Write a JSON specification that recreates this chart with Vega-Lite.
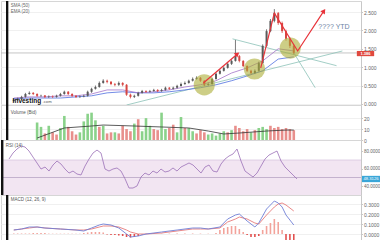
{
"$schema": "https://vega.github.io/schema/vega-lite/v6.json",
"padding": 0,
"spacing": 0,
"bounds": "flush",
"background": "#ffffff",
"config": {
  "view": {"stroke": "#d6d6d6"},
  "axis": {"labelFontSize": 5, "labelColor": "#666666", "labelFont": "Liberation Sans", "domainColor": "#c8c8c8", "tickColor": "#c8c8c8", "tickSize": 1.5, "labelPadding": 1, "gridColor": "#f0f0f0", "labelOverlap": false, "labelBound": false, "labelFlush": false},
  "text": {"font": "Liberation Sans"}
},
"datasets": {
  "price": [
    {"d":2,"o":0.08,"h":0.14,"l":0.06,"c":0.11},{"d":3,"o":0.11,"h":0.17,"l":0.09,"c":0.14},{"d":4,"o":0.14,"h":0.22,"l":0.12,"c":0.19},
    {"d":5,"o":0.19,"h":0.30,"l":0.17,"c":0.27},{"d":6,"o":0.27,"h":0.34,"l":0.25,"c":0.30},{"d":7,"o":0.30,"h":0.32,"l":0.24,"c":0.27},
    {"d":8,"o":0.27,"h":0.29,"l":0.19,"c":0.22},{"d":9,"o":0.22,"h":0.25,"l":0.19,"c":0.23},{"d":10,"o":0.23,"h":0.24,"l":0.16,"c":0.19},
    {"d":11,"o":0.19,"h":0.23,"l":0.16,"c":0.20},{"d":12,"o":0.20,"h":0.23,"l":0.16,"c":0.19},{"d":13,"o":0.19,"h":0.25,"l":0.17,"c":0.22},
    {"d":14,"o":0.22,"h":0.30,"l":0.20,"c":0.27},{"d":15,"o":0.27,"h":0.36,"l":0.25,"c":0.33},{"d":16,"o":0.33,"h":0.35,"l":0.24,"c":0.27},
    {"d":17,"o":0.27,"h":0.29,"l":0.19,"c":0.22},{"d":18,"o":0.22,"h":0.24,"l":0.16,"c":0.19},{"d":19,"o":0.19,"h":0.23,"l":0.16,"c":0.20},
    {"d":20,"o":0.20,"h":0.25,"l":0.18,"c":0.22},{"d":21,"o":0.22,"h":0.36,"l":0.20,"c":0.33},{"d":22,"o":0.33,"h":0.44,"l":0.30,"c":0.41},
    {"d":23,"o":0.41,"h":0.50,"l":0.39,"c":0.46},{"d":24,"o":0.46,"h":0.61,"l":0.44,"c":0.57},{"d":25,"o":0.57,"h":0.67,"l":0.55,"c":0.63},
    {"d":26,"o":0.63,"h":0.66,"l":0.56,"c":0.60},{"d":27,"o":0.60,"h":0.62,"l":0.51,"c":0.54},{"d":28,"o":0.54,"h":0.57,"l":0.48,"c":0.52},
    {"d":29,"o":0.52,"h":0.61,"l":0.49,"c":0.57},{"d":30,"o":0.57,"h":0.59,"l":0.48,"c":0.52},{"d":31,"o":0.52,"h":0.54,"l":0.22,"c":0.25},
    {"d":32,"o":0.25,"h":0.28,"l":0.15,"c":0.19},{"d":33,"o":0.19,"h":0.25,"l":0.16,"c":0.22},{"d":34,"o":0.22,"h":0.33,"l":0.20,"c":0.30},
    {"d":35,"o":0.30,"h":0.38,"l":0.28,"c":0.35},{"d":36,"o":0.35,"h":0.37,"l":0.30,"c":0.33},{"d":37,"o":0.33,"h":0.38,"l":0.31,"c":0.35},
    {"d":38,"o":0.35,"h":0.41,"l":0.33,"c":0.38},{"d":39,"o":0.38,"h":0.40,"l":0.32,"c":0.35},{"d":40,"o":0.35,"h":0.41,"l":0.33,"c":0.38},
    {"d":41,"o":0.38,"h":0.47,"l":0.36,"c":0.44},{"d":42,"o":0.44,"h":0.46,"l":0.38,"c":0.41},{"d":43,"o":0.41,"h":0.47,"l":0.39,"c":0.44},
    {"d":44,"o":0.44,"h":0.52,"l":0.42,"c":0.49},{"d":45,"o":0.49,"h":0.58,"l":0.47,"c":0.54},{"d":46,"o":0.54,"h":0.61,"l":0.52,"c":0.57},
    {"d":47,"o":0.57,"h":0.66,"l":0.55,"c":0.63},{"d":48,"o":0.63,"h":0.72,"l":0.61,"c":0.68},{"d":49,"o":0.68,"h":0.75,"l":0.66,"c":0.71},
    {"d":50,"o":0.71,"h":0.73,"l":0.60,"c":0.63},{"d":51,"o":0.63,"h":0.65,"l":0.48,"c":0.52},{"d":52,"o":0.52,"h":0.58,"l":0.49,"c":0.54},
    {"d":53,"o":0.54,"h":0.71,"l":0.52,"c":0.68},{"d":54,"o":0.68,"h":0.85,"l":0.66,"c":0.82},{"d":55,"o":0.82,"h":0.94,"l":0.80,"c":0.90},
    {"d":56,"o":0.90,"h":1.02,"l":0.88,"c":0.98},{"d":57,"o":0.98,"h":1.13,"l":0.96,"c":1.09},{"d":58,"o":1.09,"h":1.21,"l":1.06,"c":1.17},
    {"d":59,"o":1.17,"h":1.74,"l":1.15,"c":1.30},{"d":60,"o":1.30,"h":1.33,"l":1.13,"c":1.17},{"d":61,"o":1.17,"h":1.19,"l":1.00,"c":1.03},
    {"d":62,"o":1.03,"h":1.05,"l":0.87,"c":0.90},{"d":63,"o":0.90,"h":0.93,"l":0.80,"c":0.84},{"d":64,"o":0.84,"h":0.94,"l":0.81,"c":0.90},
    {"d":65,"o":0.90,"h":1.15,"l":0.88,"c":1.11},{"d":66,"o":1.11,"h":1.62,"l":1.09,"c":1.58},{"d":67,"o":1.58,"h":2.03,"l":1.55,"c":1.98},
    {"d":68,"o":1.98,"h":2.31,"l":1.95,"c":2.26},{"d":69,"o":2.26,"h":2.58,"l":2.22,"c":2.47},{"d":70,"o":2.47,"h":2.50,"l":2.15,"c":2.20},
    {"d":71,"o":2.20,"h":2.24,"l":1.93,"c":1.98},{"d":72,"o":1.98,"h":2.02,"l":1.72,"c":1.77},{"d":73,"o":1.77,"h":1.81,"l":1.52,"c":1.58},
    {"d":74,"o":1.58,"h":1.62,"l":1.35,"c":1.39}
  ],
  "ma": [
    {"d":2,"e":0.16,"s":0.14},{"d":6,"e":0.19,"s":0.16},{"d":10,"e":0.19,"s":0.16},{"d":14,"e":0.22,"s":0.16},{"d":18,"e":0.22,"s":0.19},
    {"d":22,"e":0.27,"s":0.22},{"d":26,"e":0.38,"s":0.30},{"d":30,"e":0.38,"s":0.33},{"d":34,"e":0.30,"s":0.30},{"d":38,"e":0.33,"s":0.30},
    {"d":42,"e":0.38,"s":0.33},{"d":46,"e":0.46,"s":0.38},{"d":50,"e":0.52,"s":0.44},{"d":54,"e":0.63,"s":0.52},{"d":58,"e":0.84,"s":0.63},
    {"d":62,"e":0.98,"s":0.76},{"d":66,"e":1.17,"s":0.90},{"d":70,"e":1.50,"s":1.22},{"d":74,"e":1.44,"s":1.28}
  ],
  "trend": [
    {"line":"a","d":31,"p":-0.03},{"line":"a","d":86.5,"p":1.44},
    {"line":"b","d":58.25,"p":1.77},{"line":"b","d":85,"p":1.04},
    {"line":"c","d":74,"p":1.39},{"line":"c","d":79.5,"p":0.44}
  ],
  "circles": [{"d":51,"p":0.52},{"d":63.9,"p":0.95},{"d":73.1,"p":1.52}],
  "arrows": [
    {"a":"A1","k":1,"d":50.75,"p":0.57},{"a":"A1","k":2,"d":59.5,"p":1.36},
    {"a":"A2","k":1,"d":65.5,"p":0.98},{"a":"A2","k":2,"d":69,"p":2.47},{"a":"A2","k":3,"d":75,"p":1.44},{"a":"A2","k":4,"d":81.75,"p":2.53}
  ],
  "heads": [{"a":"A1","d":59.5,"p":1.36},{"a":"A2","d":81.75,"p":2.53}],
  "vol": [
    {"d":8,"v":16,"dir":"up"},{"d":9,"v":12,"dir":"up"},{"d":10,"v":6,"dir":"down"},{"d":11,"v":13,"dir":"up"},{"d":12,"v":7,"dir":"down"},
    {"d":13,"v":5,"dir":"down"},{"d":14,"v":11,"dir":"up"},{"d":15,"v":22,"dir":"up"},{"d":16,"v":12,"dir":"down"},{"d":17,"v":8,"dir":"down"},
    {"d":18,"v":5,"dir":"down"},{"d":19,"v":7,"dir":"up"},{"d":20,"v":17,"dir":"up"},{"d":21,"v":24,"dir":"up"},{"d":22,"v":25,"dir":"up"},
    {"d":23,"v":18,"dir":"up"},{"d":24,"v":12,"dir":"down"},{"d":25,"v":13,"dir":"up"},{"d":26,"v":6,"dir":"down"},{"d":27,"v":7,"dir":"down"},
    {"d":28,"v":7,"dir":"up"},{"d":29,"v":6,"dir":"down"},{"d":30,"v":13,"dir":"down"},{"d":31,"v":10,"dir":"down"},{"d":32,"v":8,"dir":"down"},
    {"d":33,"v":15,"dir":"up"},{"d":34,"v":19,"dir":"down"},{"d":35,"v":8,"dir":"up"},{"d":36,"v":20,"dir":"up"},{"d":37,"v":13,"dir":"up"},
    {"d":38,"v":10,"dir":"down"},{"d":39,"v":9,"dir":"down"},{"d":40,"v":25,"dir":"up"},{"d":41,"v":10,"dir":"up"},{"d":42,"v":11,"dir":"down"},
    {"d":43,"v":14,"dir":"down"},{"d":44,"v":7,"dir":"up"},{"d":45,"v":21,"dir":"up"},{"d":46,"v":11,"dir":"down"},{"d":47,"v":11,"dir":"up"},
    {"d":48,"v":8,"dir":"up"},{"d":49,"v":6,"dir":"down"},{"d":50,"v":9,"dir":"down"},{"d":51,"v":7,"dir":"down"},{"d":52,"v":5,"dir":"up"},
    {"d":53,"v":6,"dir":"up"},{"d":54,"v":4,"dir":"up"},{"d":55,"v":6,"dir":"up"},{"d":56,"v":8,"dir":"up"},{"d":57,"v":7,"dir":"down"},
    {"d":58,"v":9,"dir":"up"},{"d":59,"v":13,"dir":"down"},{"d":60,"v":11,"dir":"down"},{"d":61,"v":8,"dir":"down"},{"d":62,"v":10,"dir":"down"},
    {"d":63,"v":7,"dir":"up"},{"d":64,"v":9,"dir":"down"},{"d":65,"v":11,"dir":"up"},{"d":66,"v":12,"dir":"up"},{"d":67,"v":10,"dir":"up"},
    {"d":68,"v":13,"dir":"down"},{"d":69,"v":11,"dir":"down"},{"d":70,"v":12,"dir":"down"},{"d":71,"v":10,"dir":"down"},{"d":72,"v":11,"dir":"down"},
    {"d":73,"v":10,"dir":"down"},{"d":74,"v":9,"dir":"down"}
  ],
  "vma": [
    {"d":8,"m":1.8},{"d":15,"m":11},{"d":22,"m":12.8},{"d":25,"m":13.7},{"d":33,"m":12.8},{"d":40,"m":11.9},{"d":47,"m":11},
    {"d":52,"m":8.2},{"d":56,"m":5.5},{"d":60,"m":6.4},{"d":67,"m":8.2},{"d":72,"m":9.1},{"d":74,"m":9.1}
  ],
  "rsi": [
    {"d":2,"r":71.1},{"d":3,"r":78.0},{"d":4,"r":82.6},{"d":5,"r":86.0},{"d":6,"r":84.9},{"d":7,"r":80.3},{"d":8,"r":73.4},{"d":9,"r":66.6},
    {"d":10,"r":59.7},{"d":11,"r":62.0},{"d":12,"r":57.4},{"d":13,"r":64.3},{"d":14,"r":68.9},{"d":15,"r":65.4},{"d":16,"r":59.7},{"d":17,"r":55.1},
    {"d":18,"r":57.4},{"d":19,"r":54.0},{"d":20,"r":52.9},{"d":21,"r":63.1},{"d":22,"r":71.1},{"d":23,"r":78.0},{"d":24,"r":81.4},{"d":25,"r":78.0},
    {"d":26,"r":59.7},{"d":27,"r":57.4},{"d":28,"r":59.7},{"d":29,"r":60.9},{"d":30,"r":57.4},{"d":31,"r":48.6},{"d":32,"r":38.0},{"d":33,"r":38.0},
    {"d":34,"r":40.3},{"d":35,"r":50.6},{"d":36,"r":55.1},{"d":37,"r":52.9},{"d":38,"r":57.4},{"d":39,"r":55.1},{"d":40,"r":59.7},{"d":41,"r":56.3},
    {"d":42,"r":57.4},{"d":43,"r":60.9},{"d":44,"r":57.4},{"d":45,"r":62.0},{"d":46,"r":64.3},{"d":47,"r":66.6},{"d":48,"r":64.3},{"d":49,"r":59.7},
    {"d":50,"r":55.1},{"d":51,"r":62.0},{"d":52,"r":64.3},{"d":53,"r":57.4},{"d":54,"r":56.3},{"d":55,"r":65.4},{"d":56,"r":71.1},{"d":57,"r":74.6},
    {"d":58,"r":76.9},{"d":59,"r":82.6},{"d":60,"r":68.9},{"d":61,"r":57.4},{"d":62,"r":54.0},{"d":63,"r":50.6},{"d":64,"r":55.1},{"d":65,"r":63.1},
    {"d":66,"r":71.1},{"d":67,"r":75.7},{"d":68,"r":78.0},{"d":69,"r":80.3},{"d":70,"r":68.9},{"d":71,"r":62.0},{"d":72,"r":57.4},{"d":73,"r":52.9},
    {"d":74,"r":48.3}
  ],
  "macd": [
    {"d":2,"m":0.04,"s":0.04},{"d":4,"m":0.05,"s":0.05},{"d":6,"m":0.07,"s":0.06},{"d":8,"m":0.07,"s":0.07},{"d":10,"m":0.06,"s":0.06},
    {"d":14,"m":0.05,"s":0.05},{"d":18,"m":0.04,"s":0.04},{"d":20,"m":0.03,"s":0.04},{"d":22,"m":0.06,"s":0.05},{"d":24,"m":0.09,"s":0.07},
    {"d":25,"m":0.10,"s":0.08},{"d":27,"m":0.09,"s":0.08},{"d":29,"m":0.06,"s":0.07},{"d":31,"m":0.00,"s":0.04},{"d":32,"m":-0.03,"s":0.02},
    {"d":34,"m":-0.02,"s":0.00},{"d":36,"m":0.00,"s":0.00},{"d":40,"m":0.02,"s":0.01},{"d":44,"m":0.04,"s":0.03},{"d":48,"m":0.06,"s":0.05},
    {"d":50,"m":0.06,"s":0.05},{"d":52,"m":0.05,"s":0.05},{"d":55,"m":0.07,"s":0.06},{"d":57,"m":0.15,"s":0.12},{"d":59,"m":0.19,"s":0.15},
    {"d":60,"m":0.20,"s":0.17},{"d":62,"m":0.13,"s":0.15},{"d":64,"m":0.07,"s":0.11},{"d":65,"m":0.11,"s":0.10},{"d":67,"m":0.25,"s":0.19},
    {"d":69,"m":0.33,"s":0.27},{"d":70,"m":0.31,"s":0.30},{"d":71,"m":0.27,"s":0.31},{"d":72,"m":0.19,"s":0.29},{"d":74,"m":0.09,"s":0.23}
  ],
  "hist": [
    {"d":2,"h":0.005},{"d":3,"h":0.005},{"d":4,"h":0.005},{"d":5,"h":0.005},{"d":6,"h":0.005},{"d":7,"h":0.01},{"d":8,"h":0.01},{"d":9,"h":0.01},
    {"d":10,"h":0.01},{"d":11,"h":0.004},{"d":12,"h":0.003},{"d":13,"h":0.003},{"d":14,"h":0.003},{"d":15,"h":0.003},{"d":16,"h":0.003},
    {"d":17,"h":0.003},{"d":18,"h":0.003},{"d":19,"h":0.003},{"d":20,"h":0.01},{"d":21,"h":0.015},{"d":22,"h":0.02},{"d":23,"h":0.02},
    {"d":24,"h":0.02},{"d":25,"h":0.015},{"d":26,"h":-0.005},{"d":27,"h":-0.01},{"d":28,"h":-0.01},{"d":29,"h":-0.015},{"d":30,"h":-0.02},
    {"d":31,"h":-0.03},{"d":32,"h":-0.035},{"d":33,"h":-0.03},{"d":34,"h":-0.02},{"d":35,"h":-0.005},{"d":36,"h":0.003},{"d":38,"h":0.003},
    {"d":40,"h":0.004},{"d":42,"h":0.004},{"d":44,"h":0.005},{"d":46,"h":0.005},{"d":48,"h":0.005},{"d":50,"h":0.004},{"d":52,"h":0.003},
    {"d":54,"h":0.01},{"d":55,"h":0.04},{"d":56,"h":0.06},{"d":57,"h":0.07},{"d":58,"h":0.08},{"d":59,"h":0.08},{"d":60,"h":0.05},
    {"d":61,"h":0.02},{"d":62,"h":-0.01},{"d":63,"h":-0.03},{"d":64,"h":-0.03},{"d":65,"h":-0.02},{"d":66,"h":0.04},{"d":67,"h":0.08},
    {"d":68,"h":0.11},{"d":69,"h":0.15},{"d":70,"h":0.12},{"d":71,"h":0.04},{"d":72,"h":-0.07},{"d":73,"h":-0.07},{"d":74,"h":-0.07}
  ]
},
"vconcat": [
  {
    "width": 360, "height": 104,
    "layer": [
      {"data": {"values": [{}]}, "mark": {"type": "rule", "color": "#b8b8b8", "strokeWidth": 0.8},
       "encoding": {"y": {"datum": 1.386, "type": "quantitative", "scale": {"domain": [-0.03, 2.8], "nice": false, "zero": false},
                          "axis": {"orient": "right", "values": [0, 0.5, 1, 1.5, 2, 2.5], "tickCount": 20, "format": ".3f", "grid": true, "title": null, "labelOverlap": false}}}},
      {"data": {"name": "trend"}, "mark": {"type": "line", "color": "#8cc2b8", "strokeWidth": 0.8},
       "encoding": {"x": {"field": "d", "type": "quantitative", "scale": {"domain": [0, 90], "nice": false, "zero": false}, "axis": null},
                    "y": {"field": "p", "type": "quantitative", "title": null}, "detail": {"field": "line"}}},
      {"data": {"name": "ma"}, "mark": {"type": "line", "color": "#4f6fe0", "strokeWidth": 0.8},
       "encoding": {"x": {"field": "d", "type": "quantitative"}, "y": {"field": "s", "type": "quantitative", "title": null}}},
      {"data": {"name": "ma"}, "mark": {"type": "line", "color": "#a374c9", "strokeWidth": 0.8},
       "encoding": {"x": {"field": "d", "type": "quantitative"}, "y": {"field": "e", "type": "quantitative", "title": null}}},
      {"data": {"name": "price"}, "mark": {"type": "rule", "strokeWidth": 0.8},
       "encoding": {"x": {"field": "d", "type": "quantitative"}, "y": {"field": "l", "type": "quantitative", "title": null}, "y2": {"field": "h"},
                    "color": {"condition": {"test": "datum.c < datum.o", "value": "#d64541"}, "value": "#5a5a5a"}}},
      {"data": {"name": "price"}, "mark": {"type": "bar", "width": 2},
       "encoding": {"x": {"field": "d", "type": "quantitative"}, "y": {"field": "o", "type": "quantitative", "title": null}, "y2": {"field": "c"},
                    "color": {"condition": {"test": "datum.c < datum.o", "value": "#d64541"}, "value": "#5a5a5a"}}},
      {"data": {"name": "circles"}, "mark": {"type": "point", "shape": "circle", "filled": true, "size": 450, "color": "#acae36", "opacity": 0.6},
       "encoding": {"x": {"field": "d", "type": "quantitative"}, "y": {"field": "p", "type": "quantitative", "title": null}}},
      {"data": {"name": "arrows"}, "mark": {"type": "line", "color": "#e8333a", "strokeWidth": 1.2},
       "encoding": {"x": {"field": "d", "type": "quantitative"}, "y": {"field": "p", "type": "quantitative", "title": null},
                    "detail": {"field": "a"}, "order": {"field": "k"}}},
      {"data": {"name": "heads"}, "transform": [{"filter": "datum.a == 'A1'"}],
       "mark": {"type": "point", "shape": "triangle-up", "filled": true, "size": 30, "color": "#e8333a", "opacity": 1, "angle": 50},
       "encoding": {"x": {"field": "d", "type": "quantitative"}, "y": {"field": "p", "type": "quantitative", "title": null}}},
      {"data": {"name": "heads"}, "transform": [{"filter": "datum.a == 'A2'"}],
       "mark": {"type": "point", "shape": "triangle-up", "filled": true, "size": 30, "color": "#e8333a", "opacity": 1, "angle": 34},
       "encoding": {"x": {"field": "d", "type": "quantitative"}, "y": {"field": "p", "type": "quantitative", "title": null}}},
      {"data": {"values": [{}]}, "mark": {"type": "text", "text": "???? YTD", "align": "left", "baseline": "middle", "fontSize": 7, "color": "#6c84a6"},
       "encoding": {"x": {"datum": 80.3, "type": "quantitative"}, "y": {"datum": 2.1, "type": "quantitative"}}},
      {"data": {"values": [{}]}, "mark": {"type": "text", "text": "SMA (50)", "align": "left", "baseline": "middle", "fontSize": 4.5, "color": "#666666"},
       "encoding": {"x": {"datum": 1.2, "type": "quantitative"}, "y": {"datum": 2.66, "type": "quantitative"}}},
      {"data": {"values": [{}]}, "mark": {"type": "text", "text": "EMA (20)", "align": "left", "baseline": "middle", "fontSize": 4.5, "color": "#666666"},
       "encoding": {"x": {"datum": 1.2, "type": "quantitative"}, "y": {"datum": 2.51, "type": "quantitative"}}},
      {"data": {"values": [{}]}, "mark": {"type": "text", "text": "Investing", "align": "left", "baseline": "middle", "fontSize": 6.5, "fontWeight": "bold", "color": "#111111"},
       "encoding": {"x": {"datum": 1.7, "type": "quantitative"}, "y": {"datum": 0.09, "type": "quantitative"}}},
      {"data": {"values": [{}]}, "mark": {"type": "text", "text": ".com", "align": "left", "baseline": "middle", "fontSize": 4.2, "color": "#555555"},
       "encoding": {"x": {"datum": 9.4, "type": "quantitative"}, "y": {"datum": 0.05, "type": "quantitative"}}},
      {"data": {"values": [{}]}, "mark": {"type": "point", "shape": "M-1,-0.3L1,-0.3L1,0.3L-1,0.3Z", "filled": true, "size": 300, "color": "#e0493f", "opacity": 1, "xOffset": 9.5, "yOffset": 0.6},
       "encoding": {"x": {"datum": 90, "type": "quantitative"}, "y": {"datum": 1.386, "type": "quantitative"}}},
      {"data": {"values": [{}]}, "mark": {"type": "text", "text": "1.386", "align": "center", "baseline": "middle", "fontSize": 4, "fontWeight": "bold", "color": "#ffffff", "xOffset": 9.5, "yOffset": 0.8},
       "encoding": {"x": {"datum": 90, "type": "quantitative"}, "y": {"datum": 1.386, "type": "quantitative"}}},
      {"data": {"values": [{}]}, "mark": {"type": "rect", "color": "#111111"},
       "encoding": {"x": {"datum": 0, "type": "quantitative"}, "x2": {"datum": 0.6}, "y": {"datum": -0.03, "type": "quantitative"}, "y2": {"datum": 2.8}}}
    ]
  },
  {
    "width": 360, "height": 35,
    "layer": [
      {"data": {"name": "vol"}, "mark": {"type": "bar", "width": 2.6},
       "encoding": {"x": {"field": "d", "type": "quantitative", "scale": {"domain": [0, 90], "nice": false, "zero": false}, "axis": null},
                    "y": {"field": "v", "type": "quantitative", "scale": {"domain": [0, 32], "nice": false},
                          "axis": {"orient": "right", "values": [0, 10, 20], "tickCount": 20, "format": "d", "grid": true, "title": null, "labelOverlap": false}},
                    "color": {"field": "dir", "type": "nominal", "scale": {"domain": ["up", "down"], "range": ["#8ad28a", "#e88f8c"]}, "legend": null}}},
      {"data": {"name": "vma"}, "mark": {"type": "line", "color": "#333333", "strokeWidth": 0.8},
       "encoding": {"x": {"field": "d", "type": "quantitative"}, "y": {"field": "m", "type": "quantitative", "title": null}}},
      {"data": {"values": [{}]}, "mark": {"type": "text", "text": "Volume (Bid)", "align": "left", "baseline": "middle", "fontSize": 4.5, "color": "#555555"},
       "encoding": {"x": {"datum": 1.2, "type": "quantitative"}, "y": {"datum": 25, "type": "quantitative"}}},
      {"data": {"values": [{}]}, "mark": {"type": "rect", "color": "#111111"},
       "encoding": {"x": {"datum": 0, "type": "quantitative"}, "x2": {"datum": 0.6}, "y": {"datum": 0, "type": "quantitative"}, "y2": {"datum": 32}}}
    ]
  },
  {
    "width": 360, "height": 55,
    "layer": [
      {"data": {"values": [{}]}, "mark": {"type": "rect", "color": "#f2e5f2"},
       "encoding": {"x": {"datum": 0, "type": "quantitative", "scale": {"domain": [0, 90], "nice": false, "zero": false}, "axis": null},
                    "x2": {"datum": 90},
                    "y": {"datum": 70, "type": "quantitative", "scale": {"domain": [30, 92.9], "nice": false, "zero": false},
                          "axis": {"orient": "right", "values": [40, 60, 80], "tickCount": 20, "format": ".4f", "labelFontSize": 4.5, "grid": false, "title": null, "labelOverlap": false}},
                    "y2": {"datum": 30}}},
      {"data": {"values": [{}]}, "mark": {"type": "rule", "color": "#d9c5df", "strokeWidth": 0.8},
       "encoding": {"y": {"datum": 70, "type": "quantitative"}}},
      {"data": {"values": [{}]}, "mark": {"type": "rule", "color": "#b7a5c4", "strokeWidth": 0.8},
       "encoding": {"y": {"datum": 50, "type": "quantitative"}}},
      {"data": {"name": "rsi"}, "mark": {"type": "line", "color": "#9a70b8", "strokeWidth": 0.8},
       "encoding": {"x": {"field": "d", "type": "quantitative"}, "y": {"field": "r", "type": "quantitative", "title": null}}},
      {"data": {"values": [{}]}, "mark": {"type": "text", "text": "RSI (14)", "align": "left", "baseline": "middle", "fontSize": 4.5, "color": "#555555"},
       "encoding": {"x": {"datum": 1.2, "type": "quantitative"}, "y": {"datum": 86, "type": "quantitative"}}},
      {"data": {"values": [{}]}, "mark": {"type": "point", "shape": "M-1,-0.35L1,-0.35L1,0.35L-1,0.35Z", "filled": true, "size": 324, "color": "#3aa6d8", "opacity": 1, "xOffset": 10},
       "encoding": {"x": {"datum": 90, "type": "quantitative"}, "y": {"datum": 48.3, "type": "quantitative"}}},
      {"data": {"values": [{}]}, "mark": {"type": "text", "text": "48.3126", "align": "center", "baseline": "middle", "fontSize": 4.2, "color": "#ffffff", "xOffset": 10},
       "encoding": {"x": {"datum": 90, "type": "quantitative"}, "y": {"datum": 48.3, "type": "quantitative"}}},
      {"data": {"values": [{}]}, "mark": {"type": "rect", "color": "#111111"},
       "encoding": {"x": {"datum": 0, "type": "quantitative"}, "x2": {"datum": 0.6}, "y": {"datum": 30, "type": "quantitative"}, "y2": {"datum": 92.9}}}
    ]
  },
  {
    "width": 360, "height": 46,
    "layer": [
      {"data": {"name": "hist"}, "mark": {"type": "bar", "width": 1.6},
       "encoding": {"x": {"field": "d", "type": "quantitative", "scale": {"domain": [0, 90], "nice": false, "zero": false}, "axis": null},
                    "y": {"field": "h", "type": "quantitative", "scale": {"domain": [-0.07, 0.39], "nice": false, "zero": false},
                          "axis": {"orient": "right", "values": [0, 0.1, 0.2, 0.3], "tickCount": 20, "format": ".4f", "grid": true, "title": null, "labelOverlap": false}},
                    "y2": {"datum": 0},
                    "color": {"condition": {"test": "datum.h < 0", "value": "#e2504f"}, "value": "#f2a39b"}}},
      {"data": {"name": "macd"}, "mark": {"type": "line", "color": "#e77b7b", "strokeWidth": 0.9},
       "encoding": {"x": {"field": "d", "type": "quantitative"}, "y": {"field": "s", "type": "quantitative", "title": null}}},
      {"data": {"name": "macd"}, "mark": {"type": "line", "color": "#6f7fd6", "strokeWidth": 0.9},
       "encoding": {"x": {"field": "d", "type": "quantitative"}, "y": {"field": "m", "type": "quantitative", "title": null}}},
      {"data": {"values": [{}]}, "mark": {"type": "text", "text": "MACD (12, 26, 9)", "align": "left", "baseline": "middle", "fontSize": 4.5, "color": "#555555"},
       "encoding": {"x": {"datum": 1.2, "type": "quantitative"}, "y": {"datum": 0.345, "type": "quantitative"}}},
      {"data": {"values": [{}]}, "mark": {"type": "rect", "color": "#111111"},
       "encoding": {"x": {"datum": 0, "type": "quantitative"}, "x2": {"datum": 0.6}, "y": {"datum": -0.07, "type": "quantitative"}, "y2": {"datum": 0.39}}}
    ]
  }
]
}
